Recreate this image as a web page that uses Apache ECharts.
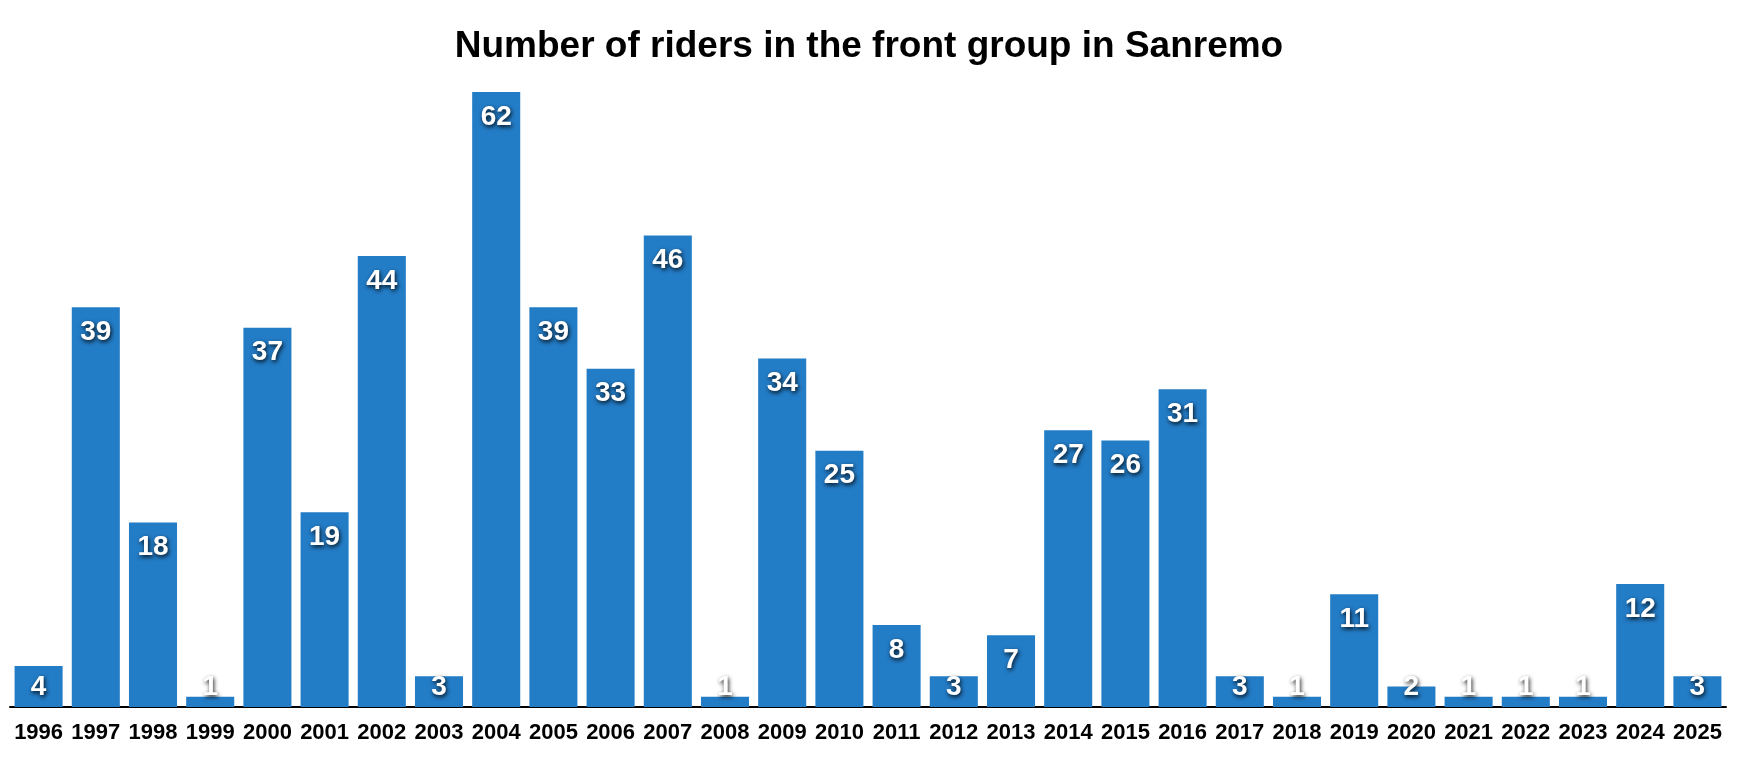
<!DOCTYPE html>
<html><head><meta charset="utf-8">
<script src="https://cdn.jsdelivr.net/npm/echarts@6/dist/echarts.min.js"></script>
<style>html,body{margin:0;padding:0;background:#fff}#c{width:1738px;height:758px}</style>
</head><body><div id="c"></div>
<script>
const years = ['1996','1997','1998','1999','2000','2001','2002','2003','2004','2005','2006','2007','2008','2009','2010','2011','2012','2013','2014','2015','2016','2017','2018','2019','2020','2021','2022','2023','2024','2025'];
const riders = [4,39,18,1,37,19,44,3,62,39,33,46,1,34,25,8,3,7,27,26,31,3,1,11,2,1,1,1,12,3];
const titleText = 'Number of riders in the front group in Sanremo';

const chart = echarts.init(document.getElementById('c'));
const data = riders.map(v => ({
  value: v,
  label: { position: v < 5 ? 'insideBottom' : 'insideTop', distance: v < 5 ? 6 : 11 }
}));
chart.setOption({
  animation: false,
  title: {
    text: titleText, left: 'center', top: 23,
    textStyle: { fontFamily: 'Liberation Sans', fontWeight: 'bold', fontSize: 37, color: '#000' }
  },
  grid: { left: 10, right: 12, top: 92, bottom: 51 },
  xAxis: {
    type: 'category', data: years,
    axisLine: { lineStyle: { color: '#000', width: 2 } },
    axisTick: { show: false },
    axisLabel: { interval: 0, margin: 15, fontFamily: 'Liberation Sans', fontWeight: 'bold', fontSize: 22, color: '#000' }
  },
  yAxis: { type: 'value', min: 0, max: 60, show: false, splitLine: { show: false } },
  series: [{
    type: 'bar', data: data, barCategoryGap: '16%',
    itemStyle: { color: '#237cc6' },
    clip: true,
    label: {
      show: true, color: '#fff', fontFamily: 'Liberation Sans', fontWeight: 'bold', fontSize: 28,
      textShadowColor: 'rgba(0,0,0,0.9)', textShadowBlur: 4, textShadowOffsetX: 1, textShadowOffsetY: 2
    }
  }]
});
</script></body></html>
